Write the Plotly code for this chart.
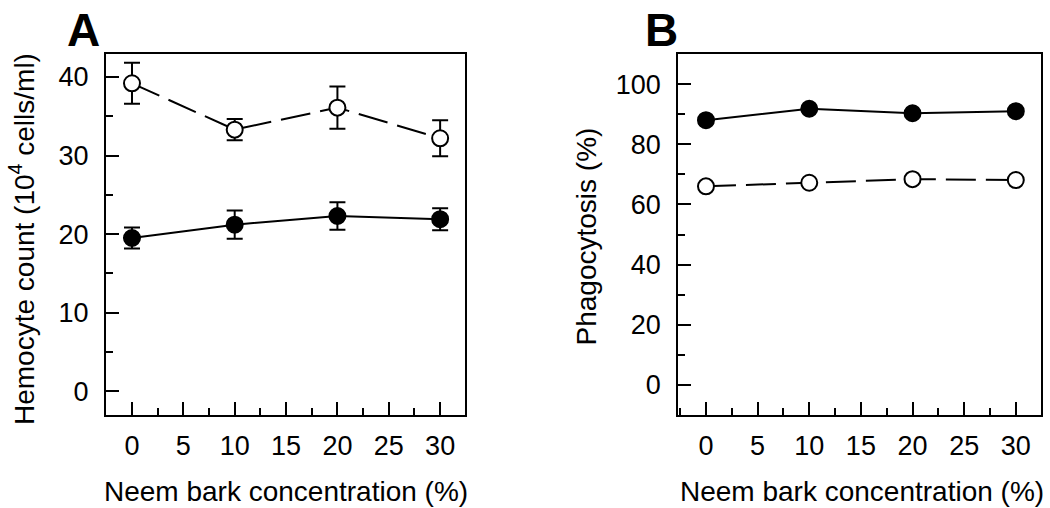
import plotly.graph_objects as go

conc = [0, 10, 20, 30]

# Panel A: hemocyte count (10^4 cells/ml)
hemo_open = [39.2, 33.3, 36.1, 32.2]
hemo_open_err = [2.6, 1.35, 2.7, 2.3]
hemo_filled = [19.5, 21.2, 22.3, 21.9]
hemo_filled_err = [1.35, 1.8, 1.75, 1.4]

# Panel B: phagocytosis (%)
phago_filled = [88.0, 91.8, 90.3, 91.0]
phago_open = [66.0, 67.2, 68.4, 68.1]

x_ticks = [0, 5, 10, 15, 20, 25, 30]
yA_ticks = [0, 10, 20, 30, 40]
yB_ticks = [0, 20, 40, 60, 80, 100]

FONT = "Arial, Liberation Sans, Helvetica, sans-serif"
W, H = 1050, 508

fig = go.Figure()

def add_series(x, y, err, filled, dashed, xa, ya):
    marker = dict(size=16, color="black" if filled else "white",
                  line=dict(color="black", width=2), symbol="circle")
    kw = {}
    if err is not None:
        kw["error_y"] = dict(type="data", array=err, visible=True,
                             color="black", thickness=2, width=8)
    fig.add_trace(go.Scatter(
        x=x, y=y, mode="lines+markers", marker=marker,
        line=dict(color="black", width=2, dash="30px,10px" if dashed else "solid"),
        xaxis=xa, yaxis=ya, showlegend=False, **kw))

add_series(conc, hemo_filled, hemo_filled_err, True, False, "x", "y")
add_series(conc, hemo_open, hemo_open_err, False, True, "x", "y")
add_series(conc, phago_filled, None, True, False, "x2", "y2")
add_series(conc, phago_open, None, False, True, "x2", "y2")

def px_x(v):
    return v / W

def px_y(v):
    return (H - v) / H

y_dom = [px_y(414.7), px_y(54)]

common_axis = dict(showline=True, linecolor="black", linewidth=2, mirror=True,
                   ticks="inside", ticklen=13, tickwidth=2, tickcolor="black",
                   showgrid=False, zeroline=False,
                   tickfont=dict(family=FONT, size=27, color="black"))

fig.update_layout(
    width=W, height=H, margin=dict(l=0, r=0, t=0, b=0),
    paper_bgcolor="white", plot_bgcolor="white",
    xaxis=dict(domain=[px_x(106), px_x(465.3)], range=[-2.53, 32.45],
               tickvals=x_ticks, anchor="y", ticklabelstandoff=6,
               minor=dict(dtick=2.5, tick0=0, ticks="inside", ticklen=7, tickwidth=2, tickcolor="black"),
               **common_axis),
    yaxis=dict(domain=y_dom, range=[-3.0, 42.93], tickvals=yA_ticks, anchor="x",
               ticklabelstandoff=10,
               minor=dict(dtick=5, tick0=0, ticks="inside", ticklen=7, tickwidth=2, tickcolor="black"),
               **common_axis),
    xaxis2=dict(domain=[px_x(678.3), px_x(1041)], range=[-2.68, 32.44],
                tickvals=x_ticks, anchor="y2", ticklabelstandoff=6,
                minor=dict(dtick=2.5, tick0=0, ticks="inside", ticklen=7, tickwidth=2, tickcolor="black"),
                **common_axis),
    yaxis2=dict(domain=y_dom, range=[-9.9, 110.0], tickvals=yB_ticks, anchor="x2",
                ticklabelstandoff=10,
                minor=dict(dtick=10, tick0=0, ticks="inside", ticklen=7, tickwidth=2, tickcolor="black"),
                **common_axis),
)

def ann(text, x, y, size, angle=0, bold=False):
    fig.add_annotation(text=("<b>%s</b>" % text) if bold else text,
                       x=px_x(x), y=px_y(y), xref="paper", yref="paper",
                       xanchor="center", yanchor="middle", showarrow=False,
                       textangle=angle, font=dict(family=FONT, size=size, color="black"))

ann("Neem bark concentration (%)", 285.7, 491, 28)
ann("Neem bark concentration (%)", 862, 491, 28)
ann("Hemocyte count (10<sup>4</sup> cells/ml)", 22, 239, 28, angle=-90)
ann("Phagocytosis (%)", 586, 236.5, 28, angle=-90)
ann("A", 83, 30, 46, bold=True)
ann("B", 661, 30, 46, bold=True)

fig.write_html("out.html", config={"displayModeBar": False},
               post_script="document.body.style.margin='0';document.body.style.overflow='hidden';")
